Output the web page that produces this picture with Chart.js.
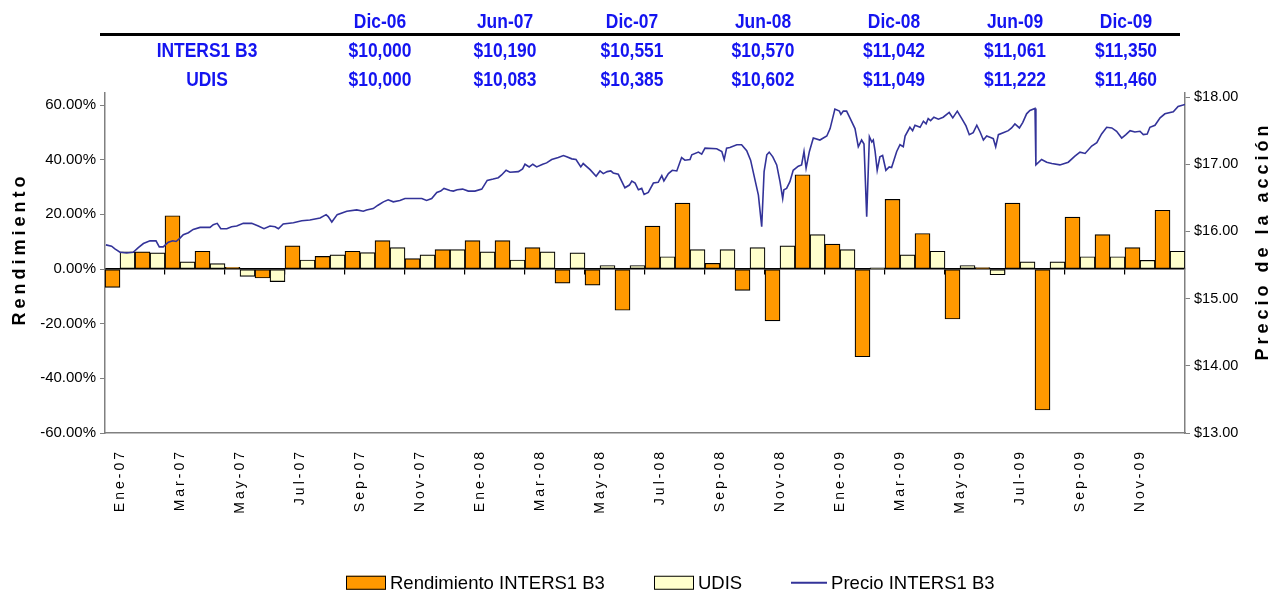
<!DOCTYPE html>
<html><head><meta charset="utf-8">
<script src="https://cdn.jsdelivr.net/npm/chart.js@4.4.1/dist/chart.umd.min.js"></script>
<style>
html,body{margin:0;padding:0;background:#fff;}
#wrap{position:relative;width:1284px;height:597px;overflow:hidden;}
#c{position:absolute;left:0;top:0;}
.t{position:absolute;font-family:'Liberation Sans',Arial,sans-serif;font-weight:bold;color:#1414f0;font-size:21px;transform:translate(-50%,-50%) scaleX(0.83);white-space:nowrap;line-height:1;}
#rule{position:absolute;left:100px;top:33px;width:1080px;height:3px;background:#000;}
#legend{position:absolute;left:346px;top:583px;transform:translateY(-50%);display:flex;align-items:center;font-family:'Liberation Sans',Arial,sans-serif;font-size:18.5px;color:#000;white-space:nowrap;line-height:1;}
.li{display:flex;align-items:center;margin-right:49px;}
.sw{width:38px;height:12px;border:1.5px solid #000;margin-right:4px;}
.ln{width:36px;height:0;border-top:2px solid #333399;margin-right:4px;}
</style></head>
<body><div id="wrap"><canvas id="c" width="1284" height="597"></canvas><div id="rule"></div><div id="legend"></div></div>
<script>
// ---- data ----
const months = ['Ene-07','Feb-07','Mar-07','Abr-07','May-07','Jun-07','Jul-07','Ago-07','Sep-07','Oct-07','Nov-07','Dic-07',
 'Ene-08','Feb-08','Mar-08','Abr-08','May-08','Jun-08','Jul-08','Ago-08','Sep-08','Oct-08','Nov-08','Dic-08',
 'Ene-09','Feb-09','Mar-09','Abr-09','May-09','Jun-09','Jul-09','Ago-09','Sep-09','Oct-09','Nov-09','Dic-09'];
const rendimiento = [-6.7,6.3,19.5,6.5,0.6,-3.3,8.5,4.6,6.5,10.4,3.8,7.1,10.4,10.4,7.8,-5.2,-5.9,-15.1,15.7,24.1,2.1,-7.8,-19.0,34.5,9.1,-32.1,25.5,13.0,-18.3,0.5,24.1,-51.6,19.0,12.6,7.8,21.5];
const udis = [6.3,5.9,2.6,2.0,-2.7,-4.6,3.3,5.2,6.0,7.8,5.2,7.1,6.3,3.3,6.3,5.9,1.3,1.3,4.5,7.1,7.1,7.8,8.5,12.6,7.1,0.4,5.2,6.5,1.3,-2.1,2.6,2.6,4.5,4.5,3.2,6.5];
// price series: position in months since start of Ene-07, and price
const priceMonth = [0.03,0.22,0.33,0.50,0.72,0.94,1.11,1.28,1.50,1.70,1.81,1.94,2.11,2.26,2.37,2.50,2.61,2.78,2.94,3.17,3.50,3.61,3.74,3.86,4.06,4.22,4.39,4.61,4.89,5.11,5.30,5.50,5.67,5.78,5.94,6.28,6.56,6.83,7.17,7.37,7.44,7.56,7.74,8.06,8.39,8.61,8.72,8.94,9.10,9.28,9.44,9.61,9.83,10.00,10.56,10.72,10.89,11.06,11.19,11.30,11.50,11.61,11.74,11.92,12.11,12.33,12.56,12.74,12.94,13.11,13.22,13.37,13.50,13.78,13.92,14.00,14.14,14.26,14.39,14.59,14.72,14.89,15.11,15.28,15.39,15.56,15.70,15.86,15.94,16.17,16.37,16.50,16.61,16.74,16.86,16.94,17.11,17.33,17.48,17.56,17.67,17.78,17.89,17.97,18.11,18.28,18.44,18.56,18.63,18.78,18.91,19.06,19.22,19.33,19.50,19.56,19.78,19.89,20.00,20.39,20.56,20.64,20.72,20.83,21.06,21.22,21.39,21.52,21.67,21.78,21.89,21.97,22.06,22.14,22.26,22.39,22.50,22.59,22.63,22.72,22.83,22.94,23.11,23.22,23.30,23.37,23.48,23.61,23.83,24.06,24.17,24.33,24.48,24.53,24.61,24.72,24.83,25.00,25.11,25.22,25.30,25.39,25.48,25.56,25.61,25.67,25.74,25.83,25.92,26.03,26.14,26.22,26.39,26.50,26.61,26.67,26.83,26.92,27.00,27.17,27.28,27.37,27.44,27.52,27.63,27.78,27.94,28.14,28.26,28.41,28.56,28.70,28.81,28.94,29.06,29.17,29.28,29.39,29.56,29.61,29.69,29.78,29.94,30.11,30.22,30.33,30.48,30.59,30.72,30.83,31.00,31.03,31.22,31.39,31.56,31.83,32.11,32.33,32.50,32.67,32.89,33.06,33.22,33.39,33.56,33.72,33.89,34.03,34.17,34.33,34.50,34.61,34.74,34.83,35.00,35.17,35.33,35.61,35.77,36.00];
const priceValue = [15.80,15.78,15.74,15.69,15.68,15.69,15.76,15.82,15.86,15.86,15.77,15.77,15.84,15.86,15.85,15.90,15.95,15.98,16.03,16.06,16.06,16.10,16.12,16.04,16.04,16.07,16.08,16.12,16.12,16.08,16.04,16.08,16.07,16.04,16.11,16.13,16.16,16.17,16.20,16.25,16.22,16.14,16.25,16.30,16.32,16.30,16.32,16.34,16.39,16.44,16.47,16.44,16.46,16.49,16.49,16.46,16.49,16.58,16.60,16.64,16.61,16.60,16.62,16.63,16.60,16.60,16.63,16.76,16.78,16.80,16.84,16.91,16.88,16.89,16.93,17.00,16.96,17.00,16.96,17.00,17.02,17.07,17.10,17.13,17.11,17.08,17.07,16.96,17.01,16.92,16.82,16.90,16.86,16.89,16.90,16.87,16.85,16.65,16.69,16.75,16.72,16.62,16.64,16.55,16.58,16.72,16.73,16.83,16.75,16.86,16.91,16.90,17.10,17.06,17.07,17.14,17.18,17.15,17.24,17.23,17.19,17.07,17.24,17.25,17.29,17.29,17.20,17.06,16.76,16.54,16.07,16.89,17.14,17.18,17.11,16.99,16.74,16.49,16.62,16.64,16.74,16.91,16.97,16.99,17.19,16.94,17.19,17.39,17.36,17.42,17.53,17.82,17.79,17.74,17.79,17.79,17.69,17.53,17.26,17.36,17.30,16.22,17.41,17.33,17.36,17.19,16.91,17.11,17.13,16.91,16.96,16.95,17.19,17.29,17.26,17.42,17.55,17.50,17.58,17.55,17.64,17.60,17.68,17.65,17.70,17.67,17.70,17.77,17.69,17.79,17.68,17.57,17.44,17.47,17.58,17.48,17.36,17.42,17.39,17.38,17.26,17.44,17.47,17.50,17.54,17.60,17.54,17.62,17.75,17.80,17.83,16.99,17.07,17.03,17.01,16.99,17.03,17.12,17.18,17.16,17.27,17.32,17.45,17.55,17.54,17.49,17.39,17.44,17.50,17.48,17.49,17.44,17.45,17.55,17.58,17.69,17.75,17.78,17.86,17.89];
const yTicks = [-60,-40,-20,0,20,40,60];
const y2Ticks = [13,14,15,16,17,18];
const tableHeaders = ['Dic-06','Jun-07','Dic-07','Jun-08','Dic-08','Jun-09','Dic-09'];
const tableRowNames = ['INTERS1 B3','UDIS'];
const tableInters = ['$10,000','$10,190','$10,551','$10,570','$11,042','$11,061','$11,350'];
const tableUdis = ['$10,000','$10,083','$10,385','$10,602','$11,049','$11,222','$11,460'];
const seriesNames = ['Rendimiento INTERS1 B3','UDIS','Precio INTERS1 B3'];
const yTitle = 'Rendimiento';
const y2Title = 'Precio de la acción';

// ---- layout / styles ----
const colX = [380,505,632,763,894,1015,1126];
const nameX = 207;
const rowY = [49,78];
const headY = 20;
const FONT = '"Liberation Sans", Arial, sans-serif';

// table (HTML text)
const wrap = document.getElementById('wrap');
function addT(txt,x,y){const d=document.createElement('div');d.className='t';d.textContent=txt;d.style.left=x+'px';d.style.top=y+'px';wrap.appendChild(d);}
tableHeaders.forEach((h,i)=>addT(h,colX[i],headY));
tableRowNames.forEach((n,r)=>addT(n,nameX,rowY[r]));
tableInters.forEach((v,i)=>addT(v,colX[i],rowY[0]));
tableUdis.forEach((v,i)=>addT(v,colX[i],rowY[1]));

const textPlugin = {
  id:'texts',
  afterDraw(chart){
    const c = chart.ctx, xs = chart.scales.x, ca = chart.chartArea;
    c.save();
    c.fillStyle = '#000';
    c.font = '14px ' + FONT;
    c.letterSpacing = '3px';
    c.textAlign = 'right'; c.textBaseline = 'middle';
    months.forEach((m,i)=>{
      if (i % 2) return;
      const x = xs.getPixelForValue(i);
      c.save(); c.translate(x, ca.bottom + 16); c.rotate(-Math.PI/2); c.fillText(m, 0, 0); c.restore();
    });
    c.font = 'bold 18px ' + FONT;
    c.letterSpacing = '4px';
    c.textAlign = 'center';
    c.save(); c.translate(20, 249); c.rotate(-Math.PI/2); c.fillText(yTitle, 0, 0); c.restore();
    c.save(); c.translate(1263, 241); c.rotate(-Math.PI/2); c.fillText(y2Title, 0, 0); c.restore();
    c.restore();
  }
};

const chart = new Chart(document.getElementById('c'), {
  data: {
    labels: months,
    datasets: [
      {type:'line', label:seriesNames[2], data: priceMonth.map((m,i)=>({x:m, y:priceValue[i]})),
       xAxisID:'xl', yAxisID:'y2', borderColor:'#333399', borderWidth:1.6, pointRadius:0, tension:0, order:0},
      {type:'bar', label:seriesNames[0], data: rendimiento, backgroundColor:'#FF9900', borderColor:'#000', borderWidth:1.2,
       borderSkipped:false, xAxisID:'x', yAxisID:'y', order:1, barThickness:15},
      {type:'bar', label:seriesNames[1], data: udis, backgroundColor:'#FFFFCC', borderColor:'#000', borderWidth:1.2,
       borderSkipped:false, xAxisID:'x', yAxisID:'y', order:1, barThickness:15}
    ]
  },
  options: {
    responsive:false, animation:false,
    layout:{padding:{top:93, left:0, right:0, bottom:0}},
    plugins:{legend:{display:false}, tooltip:{enabled:false}},
    scales:{
      x:{type:'category', position:'bottom', offset:true, grid:{display:false},
         border:{color:'#808080', width:1.5}, ticks:{display:false},
         afterFit(s){ s.height = 164; }},
      x0:{type:'category', position:{y:0}, offset:true,
          grid:{offset:true, drawOnChartArea:false, drawTicks:true, tickLength:5,
                color:(ctx)=> (ctx.index % 2 === 0 ? '#000' : 'rgba(0,0,0,0)'), lineWidth:1.2},
          border:{color:'#000', width:1.6}, ticks:{display:false}},
      xl:{type:'linear', display:false, min:0, max:36},
      y:{position:'left', min:-60, max:64.4,
         afterBuildTicks(s){ s.ticks = yTicks.map(v=>({value:v})); },
         ticks:{callback:(v)=>v.toFixed(2)+'%', color:'#000', font:{family:FONT, size:15}, padding:4},
         grid:{drawOnChartArea:false, drawTicks:true, tickLength:5, color:'#808080'},
         border:{color:'#808080', width:1.5},
         afterFit(s){ s.width = 105; }},
      y2:{position:'right', min:13, max:18.06,
          afterBuildTicks(s){ s.ticks = y2Ticks.map(v=>({value:v})); },
          ticks:{callback:(v)=>'$'+v.toFixed(2), color:'#000', font:{family:FONT, size:14.5}, padding:4},
          grid:{drawOnChartArea:false, drawTicks:true, tickLength:5, color:'#808080'},
          border:{color:'#808080', width:1.5},
          afterFit(s){ s.width = 99; }}
    }
  },
  plugins:[textPlugin]
});

// legend (HTML, built from the dataset labels/colours)
const leg = document.getElementById('legend');
[chart.data.datasets[1], chart.data.datasets[2], chart.data.datasets[0]].forEach(ds=>{
  const it = document.createElement('div'); it.className='li';
  const sw = document.createElement('div');
  if (ds.type === 'line') { sw.className='ln'; sw.style.borderTopColor = ds.borderColor; }
  else { sw.className='sw'; sw.style.background = ds.backgroundColor; }
  const tx = document.createElement('span'); tx.textContent = ds.label;
  it.appendChild(sw); it.appendChild(tx); leg.appendChild(it);
});
</script></body></html>
